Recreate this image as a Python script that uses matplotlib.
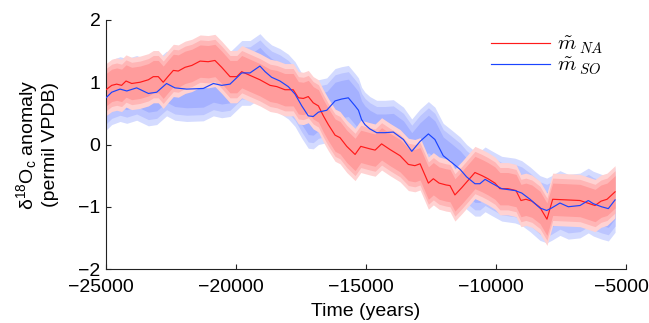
import matplotlib
matplotlib.use("Agg")
import matplotlib.pyplot as plt
from matplotlib.font_manager import FontProperties
import matplotlib.transforms as mtransforms
import numpy as np

# ---- data ----
na_time = [-25000, -24780, -24590, -24400, -24230, -24010, -23690, -23370, -23180, -22990,
           -22800, -22600, -22410, -22220, -21960, -21700, -21380, -21070, -20810, -20550,
           -20230, -19970, -19780, -19460, -19080, -18690, -18430, -18120, -17800, -17600,
           -17410, -17220, -17030, -16830, -16640, -16450, -16190, -16000, -15740, -15420,
           -15200, -14850, -14650, -14400, -14080, -13690, -13370, -13120, -12920, -12600,
           -12410, -12190, -11920, -11770, -11580, -11310, -11080, -10810, -10540, -10310,
           -10040, -9850, -9540, -9230, -9040, -8850, -8620, -8310, -8040, -7820,
           -7280, -6770, -6190, -5960, -5730, -5420]
na_values = [0.88, 0.95, 0.97, 0.95, 1.02, 0.98, 1.00, 1.04, 1.09, 1.09,
             1.00, 1.10, 1.19, 1.18, 1.24, 1.27, 1.34, 1.33, 1.35, 1.24,
             1.09, 1.09, 1.17, 1.11, 1.04, 0.95, 0.93, 0.88, 0.88, 0.75,
             0.74, 0.77, 0.67, 0.62, 0.46, 0.32, 0.15, 0.11, -0.03, -0.16,
             -0.03, -0.07, -0.09, 0.01, -0.08, -0.18, -0.32, -0.34, -0.31, -0.62,
             -0.55, -0.62, -0.65, -0.66, -0.81, -0.69, -0.58, -0.45, -0.50, -0.55,
             -0.62, -0.71, -0.71, -0.74, -0.90, -0.88, -0.91, -1.01, -1.20, -0.88,
             -0.89, -0.90, -0.98, -0.91, -0.88, -0.76]

so_time = [-25000, -24780, -24460, -24200, -23820, -23370, -23050, -22670, -22350, -21900,
           -21260, -20870, -20550, -20230, -19780, -19460, -19080, -18880, -18630, -18310,
           -17990, -17730, -17470, -17220, -17030, -16830, -16510, -16190, -15940, -15680,
           -15420, -15290, -15170, -15040, -14850, -14590, -14270, -13950, -13560, -13240,
           -12920, -12600, -12350, -12030, -11700, -11380, -11130, -10810, -10620, -10420,
           -10170, -9780, -9270, -9010, -8690, -8310, -8050, -7860, -7540, -7220,
           -6770, -6450, -6260, -5940, -5680, -5420]
so_values = [0.75, 0.84, 0.89, 0.86, 0.91, 0.82, 0.84, 0.98, 0.91, 0.89,
             0.90, 0.98, 0.95, 0.97, 1.15, 1.15, 1.26, 1.17, 1.08, 1.02,
             0.93, 0.81, 0.62, 0.46, 0.45, 0.52, 0.55, 0.70, 0.73, 0.75,
             0.62, 0.55, 0.40, 0.32, 0.25, 0.19, 0.19, 0.20, 0.08, -0.11,
             0.05, 0.17, 0.08, -0.18, -0.29, -0.40, -0.52, -0.63, -0.63, -0.56,
             -0.62, -0.71, -0.74, -0.78, -0.88, -1.02, -1.06, -1.02, -0.94, -1.00,
             -0.98, -0.90, -0.95, -1.00, -1.03, -0.89]

# half-widths of the three uncertainty bands (inner, middle, outer)
na_band_halfwidths = [0.26, 0.34, 0.42]
so_band_halfwidths = [0.30, 0.42, 0.52]

legend_labels = [r'$\tilde{m}\,_{NA}$', r'$\tilde{m}\,_{SO}$']
x_ticks = [-25000, -20000, -15000, -10000, -5000]
y_ticks = [-2, -1, 0, 1, 2]

# ---- styling ----
plt.rcParams['font.family'] = ['Liberation Sans', 'DejaVu Sans']
plt.rcParams['mathtext.fontset'] = 'custom'
plt.rcParams['mathtext.rm'] = 'Liberation Sans'
plt.rcParams['mathtext.it'] = 'Liberation Sans:italic'
plt.rcParams['axes.unicode_minus'] = True

na_colors = ['#ffd2d2', '#ffb6b6', '#ff9c9c']   # outer -> inner
so_colors = ['#d4dbff', '#bcc5ff', '#a5b1ff']
na_line = '#ff1a1a'
so_line = '#1a44ff'

W, H = 649, 323
fig = plt.figure(figsize=(W / 100, H / 100), dpi=100)
ax = fig.add_axes([106 / W, (H - 269) / H, (626 - 106) / W, (269 - 20) / H])

so_t = np.array(so_time); so_v = np.array(so_values)
na_t = np.array(na_time); na_v = np.array(na_values)

for hw, c in zip(so_band_halfwidths[::-1], so_colors):
    ax.fill_between(so_t, so_v - hw, so_v + hw, color=c, lw=0, zorder=1)
for hw, c in zip(na_band_halfwidths[::-1], na_colors):
    ax.fill_between(na_t, na_v - hw, na_v + hw, color=c, lw=0, zorder=2)

l1, = ax.plot(na_t, na_v, color=na_line, lw=0.85, zorder=4)
l2, = ax.plot(so_t, so_v, color=so_line, lw=0.85, zorder=4)

ax.set_xlim(-25000, -5000)
ax.set_ylim(-2, 2)
ax.set_xticks(x_ticks)
ax.set_yticks(y_ticks)
for s in ['top', 'right']:
    ax.spines[s].set_visible(False)
for s in ['left', 'bottom']:
    ax.spines[s].set_linewidth(0.8)
    ax.spines[s].set_color('#222222')
ax.tick_params(direction='in', length=3.5, width=0.8, labelsize=14, colors='#222222', labelcolor='black')
ax.tick_params(axis='x', pad=7)
ax.tick_params(axis='y', pad=4)

# shift x tick labels slightly left, as in the reference
offset = mtransforms.ScaledTranslation(-5 / 100, 0, fig.dpi_scale_trans)
for lab in ax.get_xticklabels():
    lab.set_transform(lab.get_transform() + offset)

ax.set_xlabel('Time (years)', fontsize=14, labelpad=5)
ax.set_ylabel('δ$^{18}$O$_{\\mathrm{c}}$ anomaly\n(permil VPDB)', fontsize=14,
              labelpad=14, linespacing=1.15)

leg_prop = FontProperties(size=15, math_fontfamily='cm')
ax.legend([l1, l2], legend_labels, loc='upper right', bbox_to_anchor=(0.972, 0.975),
          frameon=False, prop=leg_prop, handlelength=2.85, handletextpad=0.3,
          labelspacing=0.0, borderaxespad=0)

fig.savefig('out.png', dpi=100)
